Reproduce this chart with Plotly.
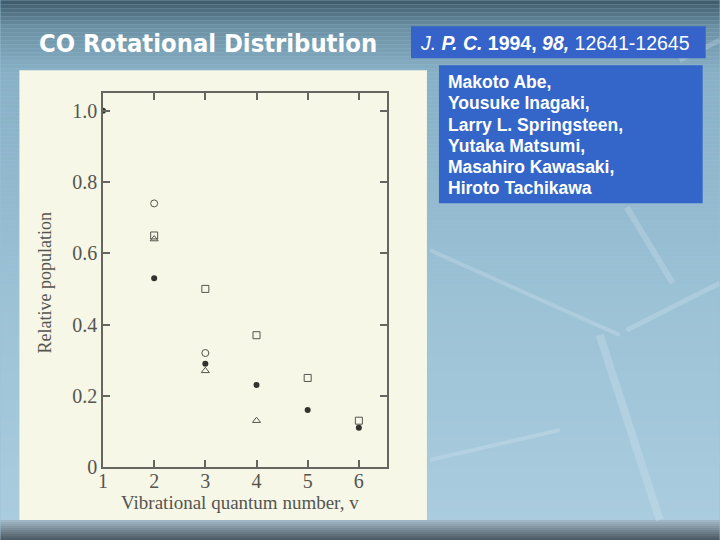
import plotly.graph_objects as go

# data
open_circle_v = [2, 3]
open_circle_pop = [0.74, 0.32]
open_square_v = [2, 3, 4, 5, 6]
open_square_pop = [0.65, 0.50, 0.37, 0.25, 0.13]
filled_circle_v = [1, 2, 3, 4, 5, 6]
filled_circle_pop = [1.0, 0.53, 0.29, 0.23, 0.16, 0.11]
triangle_v = [2, 3, 4]
triangle_pop = [0.64, 0.27, 0.13]

x_ticks = [1, 2, 3, 4, 5, 6]
y_ticks = [0, 0.2, 0.4, 0.6, 0.8, 1.0]
y_tick_labels = ["0", "0.2", "0.4", "0.6", "0.8", "1.0"]

authors = [
    "Makoto Abe,",
    "Yousuke Inagaki,",
    "Larry L. Springsteen,",
    "Yutaka Matsumi,",
    "Masahiro Kawasaki,",
    "Hiroto Tachikawa",
]

W, H = 720, 540
L, R, T, B = 102.7, 333, 92.7, 73
PW, PH = W - L - R, H - T - B


def px(x):
    return (x - L) / PW


def py(y):
    return (H - B - y) / PH


def mix(c0, c1, f):
    return "rgb(%d,%d,%d)" % tuple(round(a + (b - a) * f) for a, b in zip(c0, c1))


INK = "#555550"
SERIF = "Liberation Serif, Times New Roman, serif"
SANS = "Liberation Sans, Arial, sans-serif"

fig = go.Figure()
marker_line = {"color": INK, "width": 1}
fig.add_trace(go.Scatter(x=open_circle_v, y=open_circle_pop, mode="markers",
                         marker={"symbol": "circle-open", "size": 7, "color": INK, "line": marker_line}))
fig.add_trace(go.Scatter(x=open_square_v, y=open_square_pop, mode="markers",
                         marker={"symbol": "square-open", "size": 7, "color": INK, "line": marker_line}))
fig.add_trace(go.Scatter(x=triangle_v, y=triangle_pop, mode="markers",
                         marker={"symbol": "triangle-up-open", "size": 7, "color": INK, "line": marker_line}))
fig.add_trace(go.Scatter(x=filled_circle_v, y=filled_circle_pop, mode="markers",
                         marker={"symbol": "circle", "size": 6, "color": "#333330"}))

# slide background: vertical gradient drawn as thin strips
shapes = []
stops = [(0, (66, 94, 110)), (25, (108, 144, 164)), (70, (136, 176, 198)),
         (300, (156, 194, 214)), (520, (170, 204, 222))]
for y0 in range(0, 520, 4):
    for (a, ca), (b, cb) in zip(stops, stops[1:]):
        if a <= y0 < b:
            col = mix(ca, cb, (y0 - a) / (b - a))
    shapes.append({"type": "rect", "xref": "paper", "yref": "paper", "layer": "below",
                   "x0": px(0), "x1": px(W), "y0": py(y0 + 4), "y1": py(y0),
                   "fillcolor": col, "line": {"width": 0}})
for i, y0 in enumerate(range(520, 540, 2)):
    shapes.append({"type": "rect", "xref": "paper", "yref": "paper", "layer": "below",
                   "x0": px(0), "x1": px(W), "y0": py(y0 + 2), "y1": py(y0),
                   "fillcolor": mix((160, 182, 196), (78, 92, 102), i / 9), "line": {"width": 0}})

# faint decorative streaks
for (x0, y0, x1, y1, w) in [(627, 207, 673, 283, 6), (627, 330, 720, 283, 5), (430, 250, 620, 335, 4),
                            (600, 335, 660, 520, 8), (430, 460, 560, 430, 4), (680, 60, 720, 40, 5)]:
    shapes.append({"type": "line", "xref": "paper", "yref": "paper", "layer": "below",
                   "x0": px(x0), "y0": py(y0), "x1": px(x1), "y1": py(y1),
                   "line": {"color": "rgba(225,235,245,0.25)", "width": w}})

# cream scanned page
shapes.append({"type": "rect", "xref": "paper", "yref": "paper", "layer": "below",
               "x0": px(19), "x1": px(427), "y0": py(520), "y1": py(70),
               "fillcolor": "#f6f7e6", "line": {"width": 0}})
# citation and author boxes
shapes.append({"type": "rect", "xref": "paper", "yref": "paper",
               "x0": px(411), "x1": px(706), "y0": py(58), "y1": py(26),
               "fillcolor": "#3563c9", "line": {"width": 0}})
shapes.append({"type": "rect", "xref": "paper", "yref": "paper",
               "x0": px(439), "x1": px(703), "y0": py(203), "y1": py(65),
               "fillcolor": "#3465c9", "line": {"width": 0}})

annotations = [
    {"text": "<b>CO Rotational Distribution</b>", "x": px(37), "y": py(43.5), "xanchor": "left",
     "yanchor": "middle", "font": {"family": "DejaVu Sans Condensed, Liberation Sans Narrow, Liberation Sans, sans-serif",
                                   "size": 25.3, "color": "white"}},
    {"text": "<i>J.</i> <b><i>P. C.</i> 1994, <i>98,</i></b> 12641-12645", "x": px(418), "y": py(42.3),
     "xanchor": "left", "yanchor": "middle",
     "font": {"family": SANS, "size": 19.5, "color": "white"}},
    {"text": "Relative population", "x": px(45), "y": py(283), "textangle": -90,
     "xanchor": "center", "yanchor": "middle", "font": {"family": SERIF, "size": 18, "color": INK}},
    {"text": "Vibrational quantum number, v", "x": px(240), "y": py(503),
     "xanchor": "center", "yanchor": "middle", "font": {"family": SERIF, "size": 19, "color": INK}},
]
for i, name in enumerate(authors):
    annotations.append({"text": "<b>%s</b>" % name, "x": px(446), "y": py(81.7 + 21.3 * i),
                        "xanchor": "left", "yanchor": "middle",
                        "font": {"family": SANS, "size": 17.5, "color": "white"}})
for a in annotations:
    a.update({"xref": "paper", "yref": "paper", "showarrow": False})

axis_common = {"showline": True, "linecolor": "#666660", "linewidth": 1.5, "mirror": "ticks",
               "ticks": "inside", "ticklen": 7, "tickwidth": 1.5, "tickcolor": "#666660",
               "showgrid": False, "zeroline": False,
               "tickfont": {"family": SERIF, "size": 20, "color": INK}}

fig.update_layout(
    width=W, height=H,
    margin={"l": L, "r": R, "t": T, "b": B, "autoexpand": False},
    paper_bgcolor="#9cc2d8",
    plot_bgcolor="rgba(0,0,0,0)",
    showlegend=False,
    shapes=shapes,
    annotations=annotations,
    xaxis={**axis_common, "range": [1, 6.55], "tickvals": x_ticks, "ticklabelstandoff": -5},
    yaxis={**axis_common, "range": [0, 1.05], "tickvals": y_ticks, "ticktext": y_tick_labels},
)

fig.write_html("out.html", config={"displayModeBar": False},
               post_script="document.body.style.margin='0';")
